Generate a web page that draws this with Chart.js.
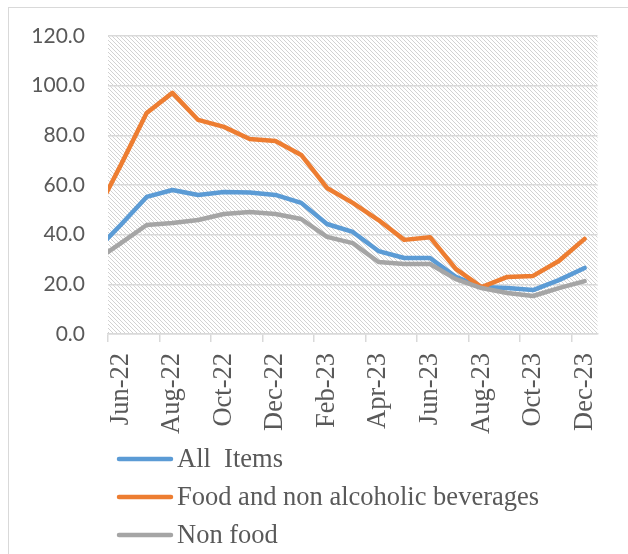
<!DOCTYPE html>
<html>
<head>
<meta charset="utf-8">
<script src="https://cdn.jsdelivr.net/npm/chart.js@4.4.1/dist/chart.umd.min.js"></script>
<style>
body { margin:0; background:#fff; overflow:hidden; }
#frame { position:absolute; left:8px; top:7px; width:700px; height:620px; border:1px solid #d9d9d9; }
#c { position:absolute; left:0; top:0; }
</style>
</head>
<body>
<div id="frame"></div>
<canvas id="c" width="628" height="554"></canvas>
<script>
// May-22 sits just left of the plot area, only its line stub shows
const months = ['May-22','Jun-22','Jul-22','Aug-22','Sep-22','Oct-22','Nov-22','Dec-22','Jan-23','Feb-23',
  'Mar-23','Apr-23','May-23','Jun-23','Jul-23','Aug-23','Sep-23','Oct-23','Nov-23','Dec-23'];
const allItems = [33.3, 44.0, 55.2, 58.0, 56.0, 57.2, 57.0, 56.0, 52.8, 44.3, 41.1, 33.4, 30.6, 30.6, 23.0, 18.9, 18.5, 17.7, 21.7, 26.6];
const food     = [48.0, 68.1, 89.0, 97.1, 86.2, 83.4, 78.5, 77.7, 72.1, 58.8, 52.8, 45.9, 37.9, 39.0, 26.2, 18.9, 23.0, 23.4, 29.4, 38.3];
const nonFood  = [29.4, 36.6, 43.9, 44.7, 45.9, 48.3, 49.1, 48.3, 46.3, 39.1, 36.6, 29.0, 28.2, 28.2, 22.1, 18.5, 16.5, 15.3, 18.5, 21.3];
const yTicks = [0, 20, 40, 60, 80, 100, 120];
const seriesNames = ['All  Items', 'Food and non alcoholic beverages', 'Non food'];
const seriesColors = ['#5b9bd5', '#ed7d31', '#a5a5a5'];

// small tile for the downward diagonal hatch
const tile = document.createElement('canvas');
tile.width = 4; tile.height = 4;
const tg = tile.getContext('2d');
tg.fillStyle = '#d2d2d2';
for (let i = 0; i < 4; i++) tg.fillRect(i, i, 1, 1);

const plotBg = {
  id: 'plotBg',
  beforeDraw(chart) {
    const {ctx, chartArea: a} = chart;
    ctx.save();
    ctx.fillStyle = ctx.createPattern(tile, 'repeat');
    ctx.fillRect(a.left, a.top, a.right - a.left, a.bottom - a.top);
    ctx.restore();
  }
};

const stackedLegend = {
  id: 'stackedLegend',
  afterDraw(chart) {
    const ctx = chart.ctx;
    ctx.save();
    ctx.font = '26.5px "Liberation Serif"';
    ctx.textBaseline = 'middle';
    seriesNames.forEach((name, i) => {
      const y = 459 + i * 38;
      ctx.strokeStyle = seriesColors[i];
      ctx.lineWidth = 4.5;
      ctx.lineCap = 'round';
      ctx.beginPath(); ctx.moveTo(119, y); ctx.lineTo(171, y); ctx.stroke();
      ctx.fillStyle = '#595959';
      ctx.fillText(name, 177, y + 1);
    });
    ctx.restore();
  }
};

function series(vals, i) {
  return {
    label: seriesNames[i],
    data: vals.map((v, k) => ({x: k, y: v})),
    borderColor: seriesColors[i],
    borderWidth: 4.5,
    borderJoinStyle: 'round',
    borderCapStyle: 'round',
    pointRadius: 0,
    tension: 0,
    clip: 0,
    order: 3 - i
  };
}

new Chart(document.getElementById('c'), {
  type: 'line',
  data: { datasets: [series(allItems, 0), series(food, 1), series(nonFood, 2)] },
  options: {
    responsive: false,
    animation: false,
    devicePixelRatio: 1,
    layout: { padding: { left: 0, right: 23, top: 36, bottom: 0 } },
    plugins: { legend: { display: false }, tooltip: { enabled: false } },
    scales: {
      x: {
        type: 'linear', min: 0.5, max: 19.5,
        afterBuildTicks(scale) {
          const t = [];
          for (let v = 0.5; v <= 18.5; v += 2) t.push({value: v});
          for (let k = 1; k < months.length; k += 2) t.push({value: k});
          t.sort((a, b) => a.value - b.value);
          scale.ticks = t;
        },
        afterFit(scale) { scale.height = 220; },
        ticks: {
          autoSkip: false, minRotation: 90, maxRotation: 90, padding: 11,
          color: '#595959', font: { family: 'Liberation Serif', size: 26.5 },
          callback: v => Number.isInteger(v) ? months[v] : ''
        },
        grid: {
          drawOnChartArea: false, tickLength: 8, lineWidth: 1.5,
          tickColor: c => (c.tick && !Number.isInteger(c.tick.value)) ? '#d9d9d9' : 'rgba(0,0,0,0)'
        },
        border: { color: '#d9d9d9', width: 1.5 }
      },
      y: {
        min: 0, max: 120,
        afterBuildTicks(scale) { scale.ticks = yTicks.map(v => ({value: v})); },
        afterFit(scale) { scale.width = 108; },
        ticks: { padding: 23, color: '#595959', font: { family: 'Lato', size: 21 }, callback: v => v.toFixed(1) },
        grid: { color: '#d9d9d9', lineWidth: 1.5, drawTicks: false },
        border: { display: false }
      }
    }
  },
  plugins: [plotBg, stackedLegend]
});
</script>
</body>
</html>
